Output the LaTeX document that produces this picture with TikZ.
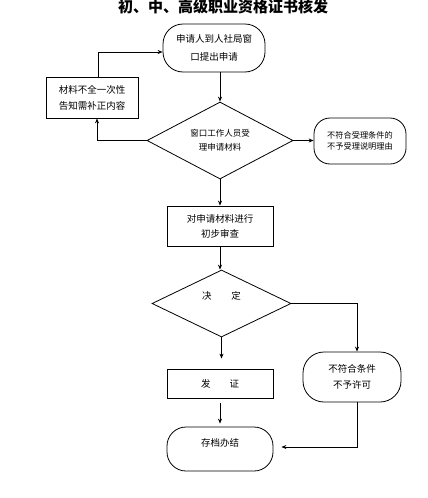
\documentclass[tikz,border=0pt]{standalone}
\usepackage{fontspec}
\newfontfamily\cjk{Noto Sans CJK SC}
\usetikzlibrary{shapes.geometric,arrows.meta,calc}
\begin{document}
\begin{tikzpicture}[x=1pt,y=-1pt,
  every node/.style={align=center, inner sep=0pt},
  txt/.style={font=\cjk\fontsize{9.5}{#1}\selectfont},
  txt/.default=16,
  rbox/.style={draw, rectangle, line width=0.8pt},
  stad/.style={draw, rectangle, rounded corners=16pt, line width=0.8pt},
  dia/.style={draw, diamond, line width=0.8pt, aspect=2},
  arr/.style={-{Stealth[length=5pt,width=4pt]}, line width=0.8pt}
]
\useasboundingbox (0,0) rectangle (428,498);

\node[font=\cjk\bfseries\fontsize{15}{15}\selectfont] (title) at (223,7) {初、中、高级职业资格证书核发};

\node[stad, rounded corners=20pt, txt=18, minimum width=102pt, minimum height=48pt] (n1) at (214,48) {申请人到人社局窗\\口提出申请};
\node[rbox, txt=16, minimum width=92pt, minimum height=41pt] (b1) at (92,97.5) {材料不全一次性\\告知需补正内容};
\node[dia, txt=14, font=\cjk\fontsize{8.5}{14}\selectfont, minimum width=146pt, minimum height=77pt] (d1) at (220,140.5) {窗口工作人员受\\理申请材料};
\node[stad, rounded corners=16pt, font=\cjk\fontsize{8.2}{11}\selectfont, minimum width=92pt, minimum height=46pt] (r1) at (360,141) {不符合受理条件的\\不予受理说明理由};
\node[rbox, txt=15, minimum width=106pt, minimum height=40pt] (b2) at (220,226) {对申请材料进行\\初步审查};
\node[dia, minimum width=139pt, minimum height=67pt,
  label={[txt, yshift=7.5pt]center:决\hspace{20pt}定}] (d2) at (221.5,303.5) {};
\node[rbox, txt, minimum width=106pt, minimum height=29pt] (b3) at (220,383.5) {发\hspace{19pt}证};
\node[stad, rounded corners=19pt, minimum width=106pt, minimum height=44pt,
  label={[txt, yshift=6pt]center:存档办结}] (s3) at (220,449) {};
\node[stad, rounded corners=21pt, txt=16, minimum width=98pt, minimum height=50pt] (r2) at (352,377) {不符合条件\\不予许可};

\draw[arr] ([xshift=6pt]b1.north) |- ([yshift=-4pt]n1.west);
\draw[arr] ([xshift=6pt]n1.south) -- (d1.north);
\draw[arr] (d1.west) -| ([xshift=5pt]b1.south);
\draw[arr] (d1.east) -- (d1.east -| r1.west);
\draw[arr] (d1.south) -- (b2.north);
\draw[arr] (b2.south) -- (b2.south |- d2.north);
\draw[arr, shorten >=10pt] (d2.south) -- (d2.south |- b3.north);
\draw[arr, shorten <=5pt, shorten >=3pt] (b3.south) -- (s3.north);
\draw[arr] (d2.east) -| ([xshift=5pt]r2.north);
\draw[arr, shorten >=8pt] ([xshift=5pt]r2.south) |- ([yshift=2pt]s3.east);
\end{tikzpicture}
\end{document}
